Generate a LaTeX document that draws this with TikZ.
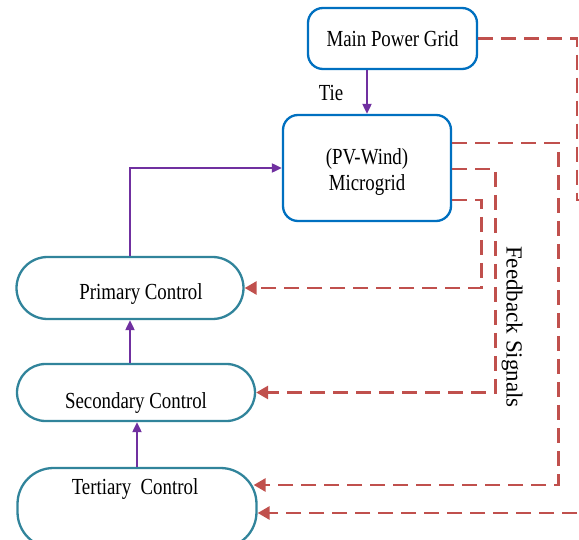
\documentclass[tikz,border=0pt]{standalone}
\usepackage{fontspec}
\setmainfont{Liberation Serif}[FakeStretch=0.82]
\newfontfamily\plainserif{Liberation Serif}
\usetikzlibrary{arrows.meta}
\definecolor{gridblue}{RGB}{0,112,192}
\definecolor{ctrlteal}{RGB}{49,132,155}
\definecolor{tiepurple}{RGB}{112,48,160}
\definecolor{fbred}{RGB}{192,80,77}
\tikzset{
  bluebox/.style={draw=gridblue, line width=2.3pt, rounded corners=15pt, fill=white,
    font=\fontsize{23}{26}\selectfont, align=center, inner sep=0pt},
  ctrlbox/.style={draw=ctrlteal, line width=2.3pt, fill=white, inner sep=0pt},
  ctrlarrow/.style={draw=tiepurple, line width=2pt, -{Triangle[length=10pt,width=9pt]}},
  fbline/.style={draw=fbred, line width=2.8pt, dash pattern=on 15pt off 8pt},
  fbarrow/.style={fbline, -{Triangle[length=12pt,width=13pt]}},
  lbl/.style={font=\fontsize{23}{26}\selectfont, inner sep=0pt}
}
\begin{document}
\begin{tikzpicture}[x=1pt,y=-1pt]
\useasboundingbox (0,0) rectangle (579,540);
\clip (0,0) rectangle (579,540);

% boxes
\node[bluebox, minimum width=169pt, minimum height=61pt] (grid) at (392.5,38.5) {Main Power Grid};
\node[bluebox, minimum width=168pt, minimum height=106pt] (micro) at (367,168) {};
\node[ctrlbox, rounded corners=31pt, minimum width=227pt, minimum height=62pt] (primary) at (130,288) {};
\node[ctrlbox, rounded corners=28.5pt, minimum width=238pt, minimum height=57pt] (secondary) at (136,392.5) {};
\node[ctrlbox, rounded corners=36pt, minimum width=239pt, minimum height=80pt] (tertiary) at (137,508) {};

% texts
\node[lbl, align=center] (microtxt) at (367,172) {(PV-Wind)\\Microgrid};
\node[lbl] (primarytxt) at (141,294) {Primary Control};
\node[lbl] (secondarytxt) at (136,403) {Secondary Control};
\node[lbl] (tertiarytxt) at (135,489) {Tertiary\ \ Control};
\node[lbl] (tie) at (331,93) {Tie};
\node[lbl, font=\plainserif\fontsize{23}{26}\selectfont, rotate=-90] (fb) at (512,327) {Feedback Signals};

% control connectors
\draw[ctrlarrow] (grid.south -| micro.north) -- (micro.north);
\draw[ctrlarrow] (primary.north) |- (micro.west);
\draw[ctrlarrow] (secondary.north -| primary.south) -- (primary.south);
\draw[ctrlarrow] (tertiary.north) -- (secondary.south -| tertiary.north);

% feedback connectors
\draw[fbarrow] ([yshift=-32pt]micro.east) -- ++(29,0) |- (primary.east);
\draw[fbarrow] ([yshift=-1pt]micro.east) -- ++(43,0) |- (secondary.east);
\draw[fbarrow] ([yshift=25pt]micro.east) -- ++(106,0) |- ([xshift=-4pt,yshift=23pt]tertiary.east);
\coordinate (gridout) at (600,200);
\draw[fbline] (grid.east) -- (577,38.5) |- (gridout);
\coordinate (gridin) at (600,513);
\draw[fbarrow] (gridin) -- ([yshift=-5pt]tertiary.east);
\end{tikzpicture}
\end{document}
